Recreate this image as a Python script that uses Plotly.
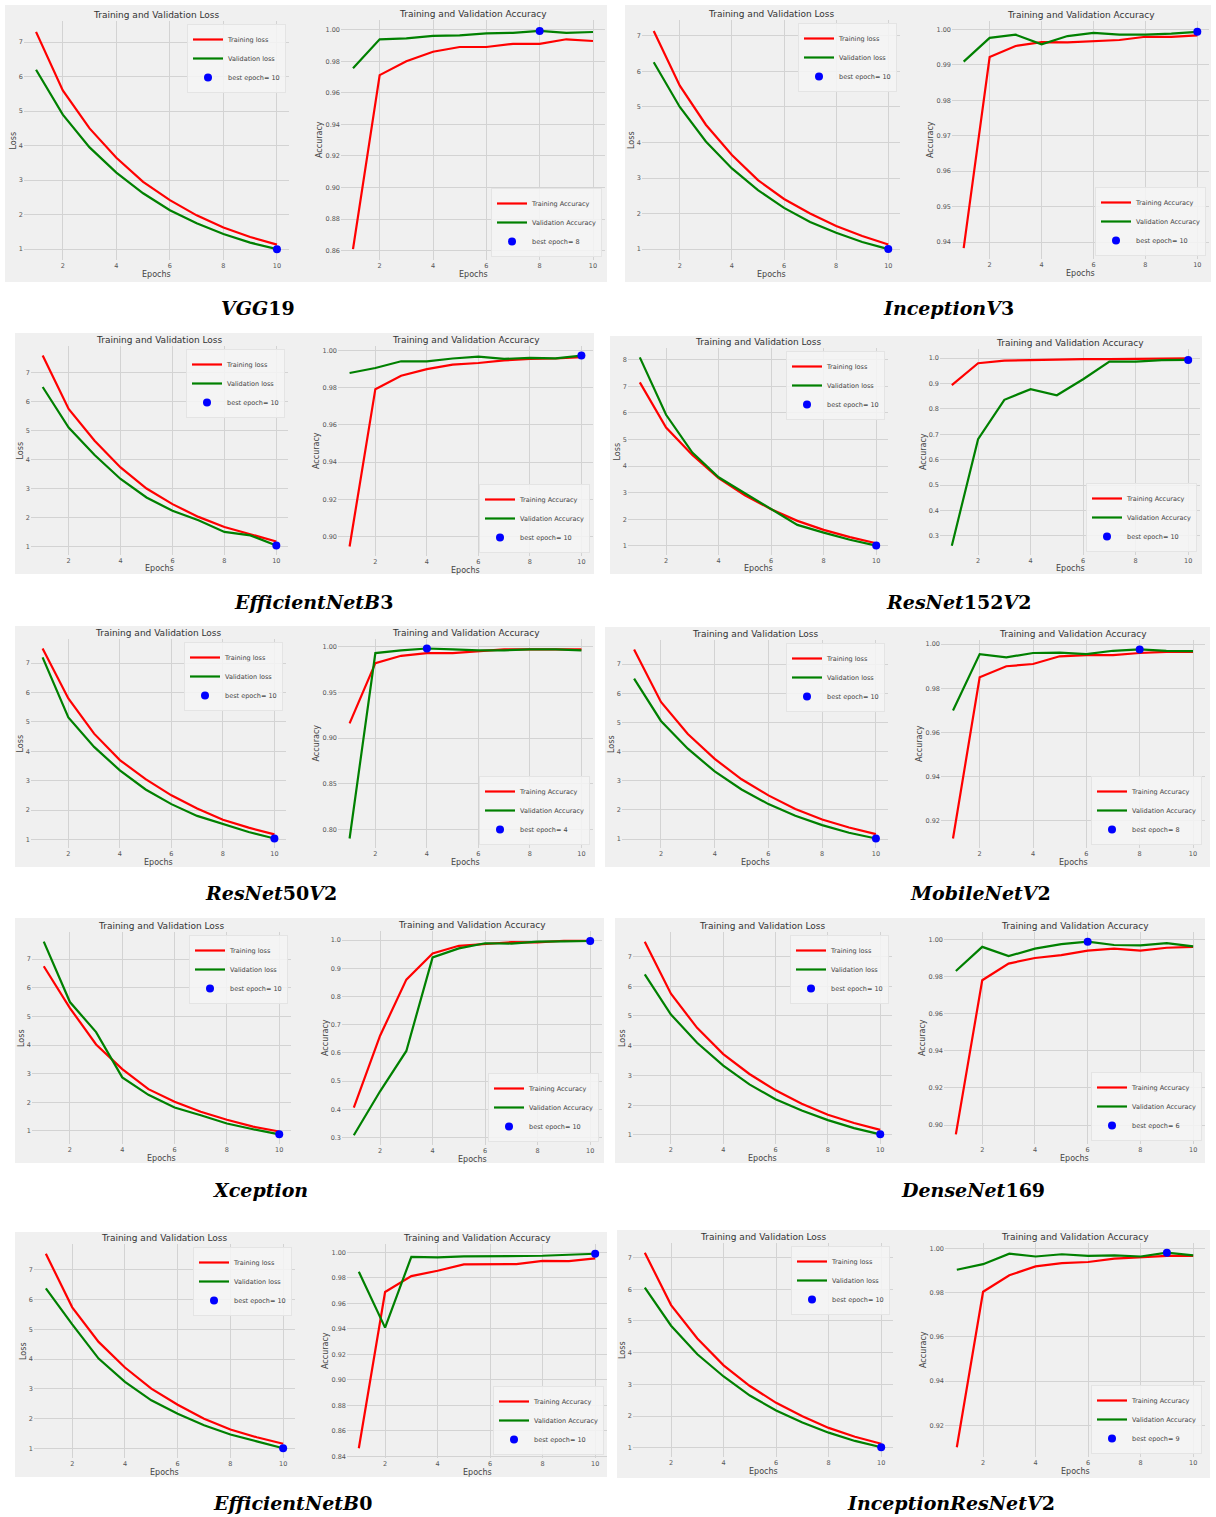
import re
import plotly.graph_objects as go

W, H = 1216, 1517
EPOCHS = [1, 2, 3, 4, 5, 6, 7, 8, 9, 10]

# ---------------- data ----------------
VGG19_TRAIN_LOSS = [7.30, 5.60, 4.50, 3.65, 2.95, 2.42, 1.98, 1.63, 1.35, 1.13]
VGG19_VAL_LOSS = [6.20, 4.90, 3.95, 3.22, 2.62, 2.13, 1.75, 1.44, 1.19, 1.00]
VGG19_TRAIN_ACC = [0.861, 0.9712, 0.980, 0.986, 0.989, 0.989, 0.991, 0.991, 0.9939, 0.9928]
VGG19_VAL_ACC = [0.9756, 0.9939, 0.9945, 0.996, 0.9964, 0.9977, 0.998, 0.9992, 0.998, 0.9985]

INCV3_TRAIN_LOSS = [7.14, 5.60, 4.50, 3.65, 2.94, 2.41, 2.00, 1.65, 1.37, 1.13]
INCV3_VAL_LOSS = [6.26, 5.00, 4.03, 3.27, 2.66, 2.16, 1.76, 1.46, 1.20, 1.00]
INCV3_TRAIN_ACC = [0.9383, 0.9922, 0.9953, 0.9964, 0.9963, 0.9967, 0.9970, 0.9979, 0.9979, 0.9983]
INCV3_VAL_ACC = [0.9909, 0.9976, 0.9985, 0.9958, 0.9981, 0.9990, 0.9985, 0.9985, 0.9988, 0.9993]

EFFB3_TRAIN_LOSS = [7.60, 5.75, 4.65, 3.73, 3.00, 2.46, 2.02, 1.67, 1.42, 1.17]
EFFB3_VAL_LOSS = [6.51, 5.11, 4.16, 3.33, 2.69, 2.23, 1.90, 1.50, 1.38, 1.03]
EFFB3_TRAIN_ACC = [0.8946, 0.9792, 0.9864, 0.9900, 0.9924, 0.9933, 0.9947, 0.9955, 0.9957, 0.9964]
EFFB3_VAL_ACC = [0.9879, 0.9906, 0.9942, 0.9942, 0.9957, 0.9967, 0.9955, 0.9960, 0.9958, 0.9973]

RES152_TRAIN_LOSS = [7.15, 5.45, 4.42, 3.55, 2.90, 2.38, 1.94, 1.60, 1.33, 1.10]
RES152_VAL_LOSS = [8.09, 5.93, 4.51, 3.58, 2.98, 2.38, 1.79, 1.50, 1.23, 1.01]
RES152_TRAIN_ACC = [0.894, 0.980, 0.990, 0.992, 0.995, 0.996, 0.996, 0.997, 0.998, 0.999]
RES152_VAL_ACC = [0.262, 0.681, 0.836, 0.878, 0.854, 0.917, 0.986, 0.986, 0.992, 0.993]

RES50_TRAIN_LOSS = [7.50, 5.80, 4.60, 3.70, 3.05, 2.50, 2.05, 1.67, 1.40, 1.17]
RES50_VAL_LOSS = [7.20, 5.15, 4.15, 3.35, 2.70, 2.20, 1.80, 1.52, 1.25, 1.03]
RES50_TRAIN_ACC = [0.916, 0.982, 0.990, 0.993, 0.993, 0.995, 0.997, 0.997, 0.997, 0.997]
RES50_VAL_ACC = [0.790, 0.993, 0.996, 0.998, 0.997, 0.996, 0.996, 0.997, 0.997, 0.996]

MOBV2_TRAIN_LOSS = [7.50, 5.70, 4.60, 3.75, 3.05, 2.50, 2.03, 1.67, 1.40, 1.17]
MOBV2_VAL_LOSS = [6.50, 5.05, 4.10, 3.32, 2.70, 2.20, 1.80, 1.48, 1.22, 1.02]
MOBV2_TRAIN_ACC = [0.912, 0.985, 0.990, 0.991, 0.9945, 0.995, 0.995, 0.996, 0.9965, 0.9965]
MOBV2_VAL_ACC = [0.970, 0.9955, 0.994, 0.996, 0.9962, 0.9955, 0.997, 0.9976, 0.997, 0.9968]

XCEP_TRAIN_LOSS = [6.75, 5.29, 4.02, 3.16, 2.46, 2.02, 1.67, 1.39, 1.15, 0.98]
XCEP_VAL_LOSS = [7.61, 5.50, 4.45, 2.87, 2.26, 1.82, 1.55, 1.26, 1.06, 0.88]
XCEP_TRAIN_ACC = [0.406, 0.661, 0.860, 0.953, 0.980, 0.986, 0.993, 0.992, 0.998, 0.998]
XCEP_VAL_ACC = [0.308, 0.464, 0.607, 0.939, 0.971, 0.989, 0.988, 0.995, 0.996, 0.997]

DENSE_TRAIN_LOSS = [7.50, 5.75, 4.60, 3.72, 3.05, 2.50, 2.05, 1.68, 1.40, 1.17]
DENSE_VAL_LOSS = [6.40, 5.05, 4.10, 3.33, 2.70, 2.20, 1.82, 1.50, 1.23, 1.02]
DENSE_TRAIN_ACC = [0.895, 0.978, 0.987, 0.990, 0.9915, 0.994, 0.995, 0.994, 0.9955, 0.996]
DENSE_VAL_ACC = [0.983, 0.996, 0.991, 0.995, 0.9975, 0.9988, 0.997, 0.9968, 0.998, 0.9962]

EFFB0_TRAIN_LOSS = [7.54, 5.74, 4.58, 3.72, 3.01, 2.47, 2.00, 1.64, 1.38, 1.16]
EFFB0_VAL_LOSS = [6.38, 5.17, 4.02, 3.24, 2.62, 2.17, 1.78, 1.47, 1.24, 1.01]
EFFB0_TRAIN_ACC = [0.8463, 0.969, 0.9814, 0.9856, 0.9906, 0.9906, 0.9908, 0.9934, 0.9932, 0.9953]
EFFB0_VAL_ACC = [0.9848, 0.941, 0.9966, 0.9961, 0.9969, 0.9971, 0.9971, 0.9974, 0.9982, 0.9990]

IRNV2_TRAIN_LOSS = [7.15, 5.50, 4.45, 3.60, 2.95, 2.42, 2.00, 1.63, 1.35, 1.13]
IRNV2_VAL_LOSS = [6.05, 4.85, 3.95, 3.25, 2.65, 2.18, 1.80, 1.48, 1.22, 1.02]
IRNV2_TRAIN_ACC = [0.910, 0.9805, 0.988, 0.992, 0.9935, 0.994, 0.9955, 0.996, 0.9968, 0.9968]
IRNV2_VAL_ACC = [0.9905, 0.993, 0.9978, 0.9965, 0.9975, 0.9968, 0.997, 0.9965, 0.9982, 0.997]

MODELS = ["VGG19", "InceptionV3", "EfficientNetB3", "ResNet152V2", "ResNet50V2",
          "MobileNetV2", "Xception", "DenseNet169", "EfficientNetB0", "InceptionResNetV2"]

SERIES = [
    (VGG19_TRAIN_LOSS, VGG19_VAL_LOSS, VGG19_TRAIN_ACC, VGG19_VAL_ACC),
    (INCV3_TRAIN_LOSS, INCV3_VAL_LOSS, INCV3_TRAIN_ACC, INCV3_VAL_ACC),
    (EFFB3_TRAIN_LOSS, EFFB3_VAL_LOSS, EFFB3_TRAIN_ACC, EFFB3_VAL_ACC),
    (RES152_TRAIN_LOSS, RES152_VAL_LOSS, RES152_TRAIN_ACC, RES152_VAL_ACC),
    (RES50_TRAIN_LOSS, RES50_VAL_LOSS, RES50_TRAIN_ACC, RES50_VAL_ACC),
    (MOBV2_TRAIN_LOSS, MOBV2_VAL_LOSS, MOBV2_TRAIN_ACC, MOBV2_VAL_ACC),
    (XCEP_TRAIN_LOSS, XCEP_VAL_LOSS, XCEP_TRAIN_ACC, XCEP_VAL_ACC),
    (DENSE_TRAIN_LOSS, DENSE_VAL_LOSS, DENSE_TRAIN_ACC, DENSE_VAL_ACC),
    (EFFB0_TRAIN_LOSS, EFFB0_VAL_LOSS, EFFB0_TRAIN_ACC, EFFB0_VAL_ACC),
    (IRNV2_TRAIN_LOSS, IRNV2_VAL_LOSS, IRNV2_TRAIN_ACC, IRNV2_VAL_ACC),
]

X_TICKS = [2, 4, 6, 8, 10]
ACC_DTICK = [0.02, 0.01, 0.02, 0.1, 0.05, 0.02, 0.1, 0.02, 0.02, 0.02]

# ---------------- layout geometry (pixels) ----------------
PANEL_BOX = [(5, 5, 607, 282), (625, 5, 1211, 282), (15, 333, 594, 574), (610, 336, 1202, 574),
             (15, 626, 595, 867), (605, 627, 1210, 867), (15, 918, 604, 1163), (615, 918, 1205, 1163),
             (15, 1232, 607, 1477), (617, 1230, 1210, 1478)]
LOSS_AREA = [(24, 21, 289, 260), (642, 20, 900, 260), (31, 346, 288, 555), (628, 348, 888, 555),
             (31, 639, 286, 848), (622, 640, 888, 848), (32, 932, 291, 1144), (633, 932, 892, 1144),
             (34, 1244, 295, 1458), (633, 1243, 893, 1457)]
ACC_AREA = [(341, 20, 605, 260), (952, 21, 1209, 259), (338, 346, 593, 556), (940, 349, 1200, 555),
            (338, 639, 593, 848), (941, 640, 1205, 848), (342, 931, 602, 1145), (944, 932, 1205, 1144),
            (347, 1244, 607, 1458), (945, 1243, 1205, 1457)]
CAPTION_POS = [(258, 308), (948, 308), (313, 602), (958, 602), (271, 893), (981, 893),
               (260, 1190), (973, 1190), (292, 1503), (951, 1503)]

BG = "#f0f0f0"
GRID = "#d3d3d3"
SANS = "DejaVu Sans"


def fx(x):
    return x / W


def fy(y):
    return 1 - y / H


fig = go.Figure()
layout = dict(width=W, height=H, margin=dict(l=0, r=0, t=0, b=0), template="none",
              paper_bgcolor="white", plot_bgcolor=BG, showlegend=True)
shapes, annotations = [], []

for i, name in enumerate(MODELS):
    tl, vl, ta, va = SERIES[i]
    px0, py0, px1, py1 = PANEL_BOX[i]
    shapes.append(dict(type="rect", xref="paper", yref="paper", x0=fx(px0), x1=fx(px1),
                       y0=fy(py1), y1=fy(py0), fillcolor=BG, line=dict(width=0), layer="below"))
    cx, cy = CAPTION_POS[i]
    cap = "<b>" + re.sub(r"([A-Za-z]+)", r"<i>\1</i>", name) + "</b>"
    annotations.append(dict(text=cap, x=fx(cx), y=fy(cy), xref="paper", yref="paper",
                            showarrow=False, xanchor="center", yanchor="middle",
                            font=dict(family="DejaVu Serif", size=19, color="black")))

    for j in range(2):
        k = 2 * i + j + 1
        sfx = "" if k == 1 else str(k)
        xr, yr = "x" + sfx, "y" + sfx
        lid = "legend" + sfx
        if j == 0:
            train, val = tl, vl
            area = LOSS_AREA[i]
            best = val.index(min(val)) + 1
            names = ("Training loss", "Validation loss")
            title = "Training and Validation Loss"
            ylab = "Loss"
            dtick, fmt = 1, "d"
            ylab_off = 11
        else:
            train, val = ta, va
            area = ACC_AREA[i]
            best = val.index(max(val)) + 1
            names = ("Training Accuracy", "Validation Accuracy")
            title = "Training and Validation Accuracy"
            ylab = "Accuracy"
            dtick = ACC_DTICK[i]
            fmt = ".2f" if dtick < 0.1 else ".1f"
            ylab_off = 22 if dtick < 0.1 else 17
        x0, y0, x1, y1 = area
        allv = list(train) + list(val)
        lo, hi = min(allv), max(allv)
        pad = 0.05 * (hi - lo)

        fig.add_trace(go.Scatter(x=EPOCHS, y=train, mode="lines", name=names[0],
                                 line=dict(color="#ff0000", width=2.2), xaxis=xr, yaxis=yr, legend=lid))
        fig.add_trace(go.Scatter(x=EPOCHS, y=val, mode="lines", name=names[1],
                                 line=dict(color="#008000", width=2.2), xaxis=xr, yaxis=yr, legend=lid))
        fig.add_trace(go.Scatter(x=[best], y=[val[best - 1]], mode="markers",
                                 name=f"best epoch= {best}",
                                 marker=dict(color="#0000ff", size=8), xaxis=xr, yaxis=yr, legend=lid))

        axfont = dict(family=SANS, size=6.5, color="#555555")
        layout["xaxis" + sfx] = dict(domain=[fx(x0), fx(x1)], anchor=yr, range=[0.55, 10.45],
                                     tickvals=X_TICKS, showgrid=True, gridcolor=GRID, gridwidth=1,
                                     zeroline=False, showline=False, ticks="", tickfont=axfont,
                                     automargin=False)
        layout["yaxis" + sfx] = dict(domain=[fy(y1), fy(y0)], anchor=xr, range=[lo - pad, hi + pad],
                                     tick0=0, dtick=dtick, tickformat=fmt, showgrid=True,
                                     gridcolor=GRID, gridwidth=1, zeroline=False, showline=False,
                                     ticks="", tickfont=axfont, automargin=False)
        if j == 0:
            lg = dict(x=fx(x1 - 3), y=fy(y0 + 3), xanchor="right", yanchor="top")
        else:
            lg = dict(x=fx(x1 - 3), y=fy(y1 - 3), xanchor="right", yanchor="bottom")
        lg.update(xref="paper", yref="paper", bgcolor="rgba(245,245,245,0.85)",
                  bordercolor="#e4e4e4", borderwidth=1, font=dict(family=SANS, size=6.5, color="#444444"),
                  itemwidth=30, tracegroupgap=0)
        layout[lid] = lg

        annotations.append(dict(text=title, x=fx((x0 + x1) / 2), y=fy(y0 - 6), xref="paper", yref="paper",
                                showarrow=False, xanchor="center", yanchor="middle",
                                font=dict(family=SANS, size=9, color="#333333")))
        annotations.append(dict(text="Epochs", x=fx((x0 + x1) / 2), y=fy(y1 + 14), xref="paper", yref="paper",
                                showarrow=False, xanchor="center", yanchor="middle",
                                font=dict(family=SANS, size=8, color="#444444")))
        annotations.append(dict(text=ylab, x=fx(x0 - ylab_off), y=fy((y0 + y1) / 2), xref="paper",
                                yref="paper", showarrow=False, xanchor="center", yanchor="middle",
                                textangle=-90, font=dict(family=SANS, size=8, color="#444444")))

layout["shapes"] = shapes
layout["annotations"] = annotations
fig.update_layout(**layout)
fig.write_html("out.html")
